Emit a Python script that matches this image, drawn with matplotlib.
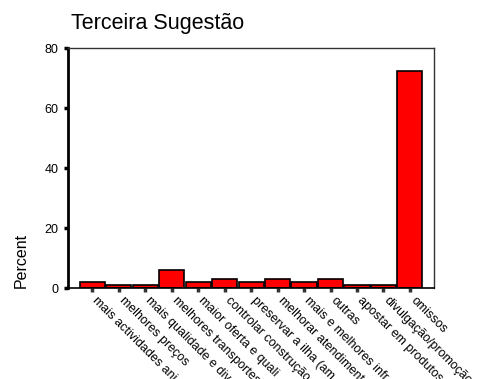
import matplotlib
matplotlib.use("Agg")
import matplotlib.pyplot as plt
import matplotlib.transforms as mtransforms
import numpy as np

plt.rcParams['font.family'] = ['Liberation Sans', 'DejaVu Sans']

# categories (SPSS truncates labels at 20 chars)
categories = ['mais actividades ani', 'melhores preços', 'mais qualidade e div',
              'melhores transportes', 'maior oferta e quali', 'controlar construção',
              'preservar a ilha (am', 'melhorar atendimento', 'mais e melhores infr',
              'outras', 'apostar em produtos', 'divulgação/promoção', 'omissos']
percent = [2.0, 1.0, 1.0, 6.1, 2.0, 3.1, 2.0, 3.1, 2.0, 3.1, 1.0, 1.0, 72.4]
yticks = [0, 20, 40, 60, 80]

fig = plt.figure(figsize=(4.81, 3.79), dpi=100)
ax = fig.add_axes([0.1424, 0.2401, 0.7593, 0.6325])

x = np.arange(len(categories))
ax.bar(x, percent, width=0.95, color='#ff0000', edgecolor='black', linewidth=1.2)

ax.set_xlim(-0.9, len(categories) - 0.1)
ax.set_ylim(0, 80)
ax.set_yticks(yticks)
ax.set_xticks(x)
ax.set_xticklabels([])

# rotated category labels, anchored just right of each tick
shift = mtransforms.ScaledTranslation(6.5 / 100, -6.5 / 100, fig.dpi_scale_trans)
for i, lab in enumerate(categories):
    ax.text(i, 0, lab, transform=ax.get_xaxis_transform() + shift,
            rotation=-45, ha='left', va='top', rotation_mode='anchor',
            fontsize=9, clip_on=False)

ax.tick_params(axis='y', direction='out', length=3, width=2.5, labelsize=9, pad=4)
ax.tick_params(axis='x', direction='out', length=3, width=2.5, colors='#333333')

ax.spines['left'].set_linewidth(2)
ax.spines['left'].set_color('black')
ax.spines['bottom'].set_linewidth(1.2)
ax.spines['top'].set_linewidth(1)
ax.spines['top'].set_color('#333333')
ax.spines['right'].set_linewidth(1)
ax.spines['right'].set_color('#333333')

ax.set_ylabel('Percent', fontsize=11.5)
ax.yaxis.set_label_coords(-0.108, 0.117)

title = ax.set_title('Terceira Sugestão', loc='left', fontsize=15.5, pad=14)
title.set_transform(title.get_transform() +
                    mtransforms.ScaledTranslation(3 / 100, 0, fig.dpi_scale_trans))

fig.savefig('out.png', dpi=100)
